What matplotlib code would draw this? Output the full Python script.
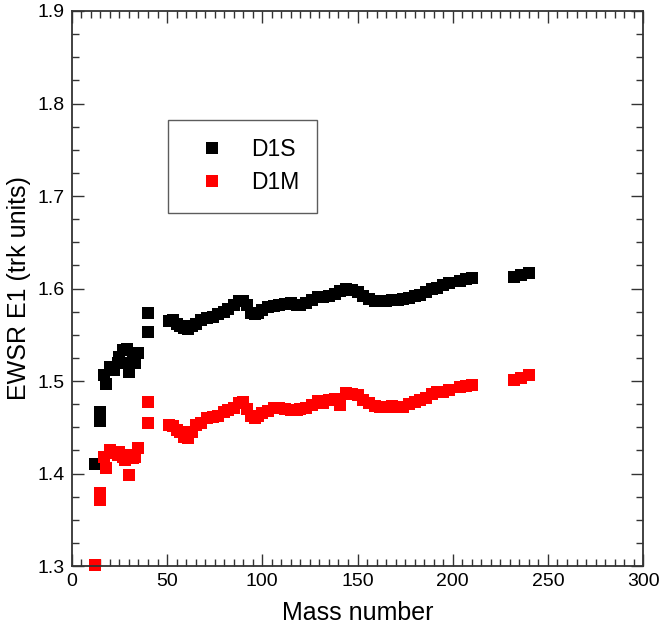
import matplotlib
matplotlib.use("Agg")
import matplotlib.pyplot as plt
from matplotlib.ticker import MultipleLocator, FormatStrFormatter

plt.rcParams['font.family'] = ['Liberation Sans', 'DejaVu Sans']

# Mass numbers
mass_light = [12, 15, 15, 17, 18, 20, 22, 24, 25, 27, 28, 29, 30, 32, 33, 35, 40, 40]
d1s_light = [1.410, 1.466, 1.457, 1.506, 1.497, 1.515, 1.512, 1.520, 1.526, 1.533,
             1.519, 1.535, 1.510, 1.528, 1.520, 1.530, 1.553, 1.573]
d1m_light = [1.301, 1.379, 1.371, 1.418, 1.406, 1.425, 1.422, 1.420, 1.423, 1.418,
             1.415, 1.420, 1.398, 1.417, 1.418, 1.428, 1.455, 1.477]

mass_heavy = [51, 53, 55, 57, 59, 61, 63, 65, 68, 71, 74, 77, 80, 82, 85, 88, 90, 92,
              94, 96, 98, 100, 103, 106, 109, 112, 115, 118, 120, 123, 126, 129, 132,
              135, 138, 141, 144, 147, 150, 153, 156, 159, 162, 165, 168, 171, 174,
              177, 180, 183, 186, 189, 192, 195, 198, 204, 207, 210, 232, 236, 240]
d1s_heavy = [1.565, 1.566, 1.562, 1.560, 1.557, 1.556, 1.560, 1.562, 1.566, 1.568,
             1.569, 1.572, 1.575, 1.578, 1.582, 1.586, 1.586, 1.582, 1.574, 1.572,
             1.574, 1.577, 1.580, 1.581, 1.582, 1.583, 1.584, 1.582, 1.582, 1.584,
             1.588, 1.591, 1.591, 1.592, 1.594, 1.597, 1.599, 1.598, 1.596, 1.592,
             1.589, 1.587, 1.586, 1.587, 1.588, 1.588, 1.589, 1.590, 1.592, 1.593,
             1.596, 1.599, 1.601, 1.604, 1.606, 1.608, 1.610, 1.611, 1.612, 1.615, 1.617]
d1m_heavy = [1.452, 1.451, 1.447, 1.445, 1.440, 1.438, 1.445, 1.452, 1.455, 1.460,
             1.461, 1.462, 1.466, 1.469, 1.471, 1.476, 1.477, 1.470, 1.462, 1.460,
             1.462, 1.465, 1.468, 1.471, 1.471, 1.470, 1.469, 1.469, 1.470, 1.471,
             1.474, 1.478, 1.476, 1.480, 1.481, 1.474, 1.487, 1.486, 1.485, 1.480,
             1.476, 1.473, 1.472, 1.472, 1.473, 1.472, 1.472, 1.475, 1.477, 1.480,
             1.482, 1.486, 1.488, 1.488, 1.490, 1.494, 1.495, 1.496, 1.501, 1.503, 1.506]

mass = mass_light + mass_heavy
d1s = d1s_light + d1s_heavy
d1m = d1m_light + d1m_heavy

fig = plt.figure(figsize=(6.59, 6.32), dpi=100)
ax = fig.add_axes([0.109, 0.1044, 0.867, 0.8782])

ax.plot(mass, d1s, linestyle='none', marker='s', markersize=8, markeredgewidth=0,
        color='black', label='D1S', clip_on=False)
ax.plot(mass, d1m, linestyle='none', marker='s', markersize=8, markeredgewidth=0,
        color='#ff0000', label='D1M', clip_on=False)

ax.set_xlim(0, 300)
ax.set_ylim(1.3, 1.9)
ax.xaxis.set_major_locator(MultipleLocator(50))
ax.xaxis.set_minor_locator(MultipleLocator(5))
ax.yaxis.set_major_locator(MultipleLocator(0.1))
ax.yaxis.set_minor_locator(MultipleLocator(0.025))
ax.yaxis.set_major_formatter(FormatStrFormatter('%.1f'))

ax.tick_params(which='both', direction='in', top=True, right=True, colors='#333333',
               labelcolor='black', labelsize=14, width=1.0)
ax.tick_params(which='major', length=8.5, pad=5)
ax.tick_params(which='minor', length=5)
for s in ax.spines.values():
    s.set_linewidth(1.3)
    s.set_color('#333333')

ax.set_xlabel('Mass number', fontsize=18, labelpad=8)
ax.set_ylabel('EWSR E1 (trk units)', fontsize=18, labelpad=5)

leg = ax.legend(loc='upper left', bbox_to_anchor=(0.168, 0.804), fontsize=16.5,
                fancybox=False, frameon=True, edgecolor='#333333', handlelength=2.27,
                handletextpad=0.55, borderpad=0.8, labelspacing=0.45, borderaxespad=0,
                markerscale=1.0)
leg.get_frame().set_linewidth(1.0)

fig.savefig('out.png', dpi=100)
